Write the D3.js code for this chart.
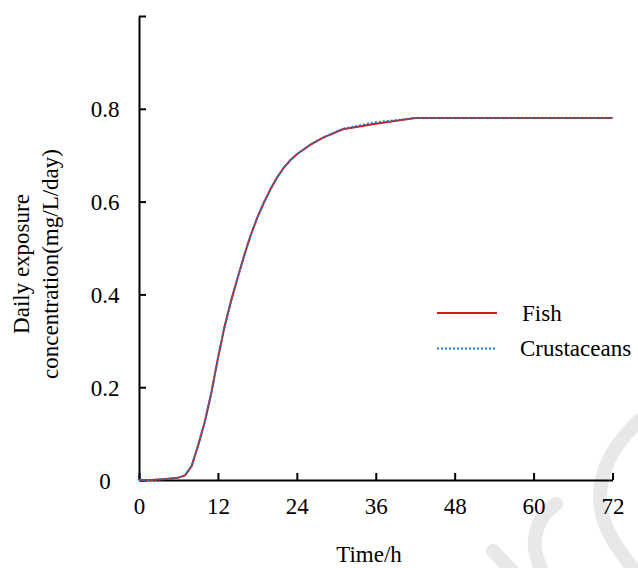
<!DOCTYPE html>
<html>
<head>
<meta charset="utf-8">
<script src="https://cdn.jsdelivr.net/npm/d3@7"></script>
<style>
  body { margin: 0; background: #fff; }
  svg { display: block; }
  text { font-family: "Liberation Serif", "Times New Roman", serif; fill: #000; }
</style>
</head>
<body>
<div id="chart"></div>
<script>
// hours since start
const hours = [0, 2, 4, 6, 7, 8, 9, 10, 11, 12, 13, 14, 15, 16, 17, 18, 19, 20, 21, 22, 23, 24, 26, 28, 31, 36, 42, 48, 54, 60, 66, 72];
// daily exposure concentration (mg/L/day)
const fish = [0, 0, 0.002, 0.005, 0.01, 0.03, 0.075, 0.125, 0.188, 0.262, 0.33, 0.386, 0.436, 0.484, 0.528, 0.566, 0.598, 0.627, 0.652, 0.673, 0.689, 0.702, 0.722, 0.738, 0.756, 0.768, 0.78, 0.78, 0.78, 0.78, 0.78, 0.78];
const crustaceans = [0, 0, 0.002, 0.005, 0.01, 0.03, 0.075, 0.125, 0.188, 0.262, 0.33, 0.386, 0.436, 0.484, 0.528, 0.566, 0.598, 0.627, 0.652, 0.673, 0.689, 0.702, 0.722, 0.738, 0.757, 0.771, 0.78, 0.78, 0.78, 0.78, 0.78, 0.78];
const xTicks = [0, 12, 24, 36, 48, 60, 72];
const yTicks = [0, 0.2, 0.4, 0.6, 0.8, 1.0];
const seriesNames = ["Fish", "Crustaceans"];

const width = 638, height = 568;
const fontSize = 23;

const svg = d3.select("#chart").append("svg")
    .attr("width", width)
    .attr("height", height);

// faint watermark in the lower right corner
const wm = svg.append("g")
    .attr("fill", "none")
    .attr("stroke", "#e8e8e8")
    .attr("stroke-width", 14)
    .attr("stroke-linecap", "round");
wm.append("path").attr("d", "M640,420 C618,440 601,465 600,495 C599,525 618,550 636,572");
wm.append("path").attr("d", "M556,504 C540,515 534,530 535,548 C536,558 540,566 543,575");
wm.append("path").attr("d", "M493,551 L516,575");

const x = d3.scaleLinear().domain([0, 72]).range([139, 612.5]);
const y = d3.scaleLinear().domain([0, 1]).range([480, 16]);

// x axis, ticks pointing inward
const xAxis = svg.append("g")
    .attr("transform", `translate(0,${y(0)})`)
    .call(d3.axisBottom(x).tickValues(xTicks).tickSize(-7).tickSizeOuter(0).tickFormat(d3.format("d")));

xAxis.selectAll("text")
    .attr("y", 34)
    .attr("dy", null)
    .style("font-size", fontSize + "px");

// y axis, ticks pointing inward
const yAxis = svg.append("g")
    .attr("transform", `translate(${x(0)},0)`)
    .call(d3.axisLeft(y).tickValues(yTicks).tickSize(-7).tickSizeOuter(0)
        .tickFormat(d => d === 0 ? "0" : d >= 1 ? "" : d3.format(".1f")(d)));

yAxis.selectAll("text")
    .attr("x", -34)
    .attr("text-anchor", "middle")
    .attr("dy", "0.35em")
    .style("font-size", fontSize + "px");

svg.selectAll(".domain, .tick line")
    .attr("stroke", "#000")
    .attr("stroke-width", 2);
svg.selectAll(".tick text").attr("fill", "#000").attr("font-family", null);

// axis titles
svg.append("text")
    .attr("x", 369)
    .attr("y", 562)
    .attr("text-anchor", "middle")
    .style("font-size", fontSize + "px")
    .text("Time/h");

const yTitle = svg.append("text")
    .attr("transform", "translate(0,264) rotate(-90)")
    .attr("text-anchor", "middle")
    .style("font-size", fontSize + "px");
yTitle.append("tspan").attr("x", 0).attr("y", 29).text("Daily exposure");
yTitle.append("tspan").attr("x", 0).attr("y", 58).text("concentration(mg/L/day)");

// lines
const line = d3.line()
    .x((d, i) => x(hours[i]))
    .y(d => y(d));

svg.append("path")
    .datum(fish)
    .attr("fill", "none")
    .attr("stroke", "#d11a1a")
    .attr("stroke-width", 2)
    .attr("stroke-linejoin", "round")
    .attr("d", line);

svg.append("path")
    .datum(crustaceans)
    .attr("fill", "none")
    .attr("stroke", "#1e78c8")
    .attr("stroke-width", 2)
    .attr("stroke-dasharray", "2,2")
    .attr("d", line);

// legend
const legend = svg.append("g");
const legendStyles = [
    { color: "#d11a1a", dash: null, ly: 313, tx: 522 },
    { color: "#1e78c8", dash: "2,2", ly: 348.5, tx: 520 }
];
seriesNames.forEach((name, i) => {
    const s = legendStyles[i];
    legend.append("line")
        .attr("x1", 437).attr("x2", 497)
        .attr("y1", s.ly).attr("y2", s.ly)
        .attr("stroke", s.color)
        .attr("stroke-width", 2)
        .attr("stroke-dasharray", s.dash);
    legend.append("text")
        .attr("x", s.tx)
        .attr("y", s.ly + 7.5)
        .style("font-size", fontSize + "px")
        .text(name);
});
</script>
</body>
</html>
